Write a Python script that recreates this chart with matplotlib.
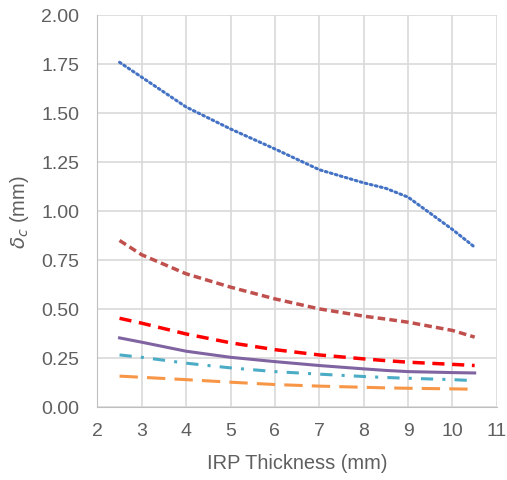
import matplotlib
matplotlib.use("Agg")
import matplotlib.pyplot as plt

thickness = [2.5, 3, 4, 5, 6, 7, 8, 8.5, 9, 10, 10.5]
s_blue   = [1.758, 1.682, 1.53, 1.418, 1.316, 1.210, 1.143, 1.115, 1.070, 0.905, 0.815]
s_brown  = [0.849, 0.776, 0.679, 0.611, 0.551, 0.500, 0.463, 0.448, 0.432, 0.390, 0.356]
s_red    = [0.452, 0.427, 0.372, 0.327, 0.292, 0.265, 0.245, 0.236, 0.228, 0.217, 0.211]
s_purple = [0.352, 0.330, 0.284, 0.253, 0.231, 0.211, 0.194, 0.186, 0.180, 0.175, 0.173]
s_cyan   = [0.265, 0.253, 0.223, 0.199, 0.180, 0.167, 0.155, 0.150, 0.146, 0.139, 0.134]
s_orange = [0.157, 0.151, 0.139, 0.126, 0.114, 0.106, 0.100, 0.097, 0.095, 0.092, 0.090]

xticks = [2, 3, 4, 5, 6, 7, 8, 9, 10, 11]
yticks = [0.00, 0.25, 0.50, 0.75, 1.00, 1.25, 1.50, 1.75, 2.00]

plt.rcParams['font.family'] = ['Liberation Sans', 'DejaVu Sans']
plt.rcParams['mathtext.fontset'] = 'dejavusans'
txt = '#5F5F5F'

fig = plt.figure(figsize=(5.07, 4.81), dpi=100)
ax = fig.add_axes([0.192, 0.152, 0.788, 0.815])

ax.plot(thickness, s_blue, color='#4472C4', lw=2.2, linestyle=(0, (0.6, 1.1)), dash_capstyle='round')
ax.plot(thickness, s_brown, color='#C0504D', lw=2.5, linestyle=(0, (2.2, 1.2)))
ax.plot(thickness, s_red, color='#FF0000', lw=2.5, linestyle=(0, (3.5, 2.2)))
ax.plot(thickness, s_purple, color='#8064A2', lw=2.2, linestyle='-')
ax.plot(thickness, s_cyan, color='#4BACC6', lw=2.2, linestyle=(0, (4, 3, 1, 3)))
ax.plot(thickness, s_orange, color='#F79646', lw=2.2, linestyle=(0, (6, 3)))

ax.set_xlim(2, 11)
ax.set_ylim(0, 2.0)
ax.set_xticks(xticks)
ax.set_yticks(yticks)
ax.set_yticklabels([f"{v:.2f}" for v in yticks])
ax.grid(True, color='#D9D9D9', lw=1.2)
ax.set_axisbelow(True)
for sp in ax.spines.values():
    sp.set_visible(False)
ax.spines['left'].set_visible(True)
ax.spines['bottom'].set_visible(True)
ax.spines['left'].set_color('#BFBFBF')
ax.spines['bottom'].set_color('#BFBFBF')
ax.tick_params(axis='y', length=0, labelsize=14, colors=txt, pad=13)
ax.tick_params(axis='x', length=0, labelsize=14, colors=txt, pad=11)

ax.set_xlabel('IRP Thickness (mm)', fontsize=14.4, color=txt)
ax.set_ylabel(r'$\delta_c$ (mm)', fontsize=14.4, color=txt)
ax.xaxis.set_label_coords(0.5, -0.143)
ax.yaxis.set_label_coords(-0.195, 0.5)
ax.xaxis.label.set_va('center')
ax.yaxis.label.set_va('center')

fig.savefig('out.png', dpi=100)
